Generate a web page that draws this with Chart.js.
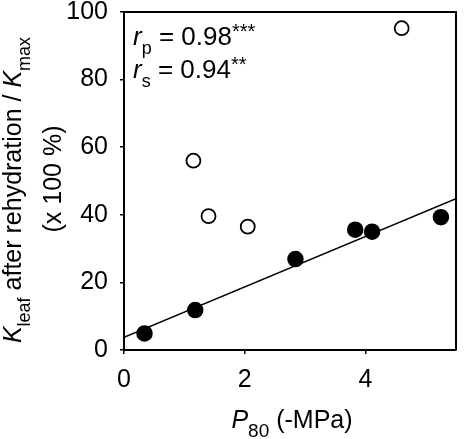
<!DOCTYPE html>
<html>
<head>
<meta charset="utf-8">
<script src="https://cdn.jsdelivr.net/npm/chart.js@4/dist/chart.umd.min.js"></script>
<style>
  html, body { margin: 0; padding: 0; background: #fff; }
  #wrap { width: 465px; height: 439px; }
</style>
</head>
<body>
<div id="wrap"><canvas id="canvasChart" width="465" height="439"></canvas></div>
<script>
// data
var filledX = [0.34, 1.18, 2.84, 3.83, 4.11, 5.25];
var filledY = [4.9, 11.8, 26.9, 35.6, 35.0, 39.3];
var openX = [1.15, 1.40, 2.05, 4.60];
var openY = [56.0, 39.6, 36.5, 95.2];
var fitX = [0, 5.5];
var fitY = [3.75, 44.8];
var xTicks = [0, 2, 4];
var yTicks = [0, 20, 40, 60, 80, 100];

var FONT = '"Liberation Sans", Arial, sans-serif';

function toPoints(xs, ys) {
  var pts = [];
  for (i = 0; i < xs.length; i++) {
    pts.push({ x: xs[i], y: ys[i] });
  }
  return pts;
}

// draws text pieces with different size / italic / baseline shift
function drawRich(ctx, x, y, parts, align) {
  var total = 0;
  parts.forEach(p => {
    ctx.font = (p.italic ? 'italic ' : '') + p.size + 'px ' + FONT;
    p.w = ctx.measureText(p.t).width;
    total += p.w;
  });
  var cx = align === 'center' ? x - total / 2 : x;
  ctx.textAlign = 'left';
  ctx.textBaseline = 'alphabetic';
  parts.forEach(p => {
    ctx.font = (p.italic ? 'italic ' : '') + p.size + 'px ' + FONT;
    ctx.fillText(p.t, cx, y + (p.dy || 0));
    cx += p.w;
  });
}

var textPlugin = {
  id: 'textPlugin',
  afterDraw(chart) {
    var ctx = chart.ctx;
    var a = chart.chartArea;
    ctx.save();
    ctx.fillStyle = '#000';

    // frame on top and right
    ctx.strokeStyle = '#000';
    ctx.lineWidth = 2;
    ctx.beginPath();
    ctx.moveTo(a.left, a.top);
    ctx.lineTo(a.right, a.top);
    ctx.lineTo(a.right, a.bottom);
    ctx.stroke();

    // correlation text
    drawRich(ctx, 133, 45, [
      { t: 'r', size: 26, italic: true },
      { t: 'p', size: 18, dy: 9 },
      { t: ' = 0.98', size: 26 },
      { t: '***', size: 20, dy: -7 }
    ]);
    drawRich(ctx, 133, 78, [
      { t: 'r', size: 26, italic: true },
      { t: 's', size: 18, dy: 9 },
      { t: ' = 0.94', size: 26 },
      { t: '**', size: 20, dy: -7 }
    ]);

    // x title
    drawRich(ctx, 292, 428, [
      { t: 'P', size: 25, italic: true },
      { t: '80', size: 19, dy: 9 },
      { t: ' (-MPa)', size: 25 }
    ], 'center');

    // y title
    ctx.save();
    ctx.translate(21, 190);
    ctx.rotate(-Math.PI / 2);
    drawRich(ctx, 0, 0, [
      { t: 'K', size: 25, italic: true },
      { t: 'leaf', size: 18, dy: 9 },
      { t: ' after rehydration / ', size: 25 },
      { t: 'K', size: 25, italic: true },
      { t: 'max', size: 18, dy: 9 }
    ], 'center');
    ctx.restore();
    ctx.save();
    ctx.translate(61, 179);
    ctx.rotate(-Math.PI / 2);
    drawRich(ctx, 0, 0, [
      { t: '(x 100 %)', size: 25 }
    ], 'center');
    ctx.restore();

    ctx.restore();
  }
};

var canvas = document.getElementById('canvasChart');
var chart = new Chart(canvas, {
  type: 'scatter',
  data: {
    datasets: [
      {
        label: 'dehydrated',
        data: toPoints(filledX, filledY),
        backgroundColor: '#000',
        borderColor: '#000',
        borderWidth: 1.5,
        pointRadius: 7.5,
        order: 1
      },
      {
        label: 'rehydrated',
        data: toPoints(openX, openY),
        backgroundColor: '#fff',
        borderColor: '#000',
        borderWidth: 1.8,
        pointRadius: 7,
        order: 2
      },
      {
        type: 'line',
        label: 'fit',
        data: toPoints(fitX, fitY),
        borderColor: '#000',
        borderWidth: 1.5,
        pointRadius: 0,
        fill: false,
        order: 3
      }
    ]
  },
  options: {
    responsive: false,
    animation: false,
    layout: { padding: { left: 0, top: 12, right: 3, bottom: 0 } },
    plugins: {
      legend: { display: false },
      tooltip: { enabled: false }
    },
    scales: {
      x: {
        type: 'linear',
        min: 0,
        max: 5.5,
        afterBuildTicks: s => { s.ticks = xTicks.map(v => ({ value: v })); },
        afterFit: s => { s.height = 89; s.paddingLeft = 0; s.paddingRight = 0; },
        grid: { drawOnChartArea: false, drawTicks: true, tickLength: 4, color: '#000', lineWidth: 1.5 },
        border: { display: true, color: '#000', width: 2 },
        ticks: { color: '#000', padding: 11, font: { family: FONT, size: 25 } }
      },
      y: {
        min: 0,
        max: 100,
        afterBuildTicks: s => { s.ticks = yTicks.map(v => ({ value: v })); },
        afterFit: s => { s.width = 124; s.paddingTop = 0; s.paddingBottom = 0; },
        grid: { drawOnChartArea: false, drawTicks: true, tickLength: 4, color: '#000', lineWidth: 1.5 },
        border: { display: true, color: '#000', width: 2 },
        ticks: { color: '#000', padding: 12, font: { family: FONT, size: 25 } }
      }
    }
  },
  plugins: [textPlugin]
});
</script>
</body>
</html>
